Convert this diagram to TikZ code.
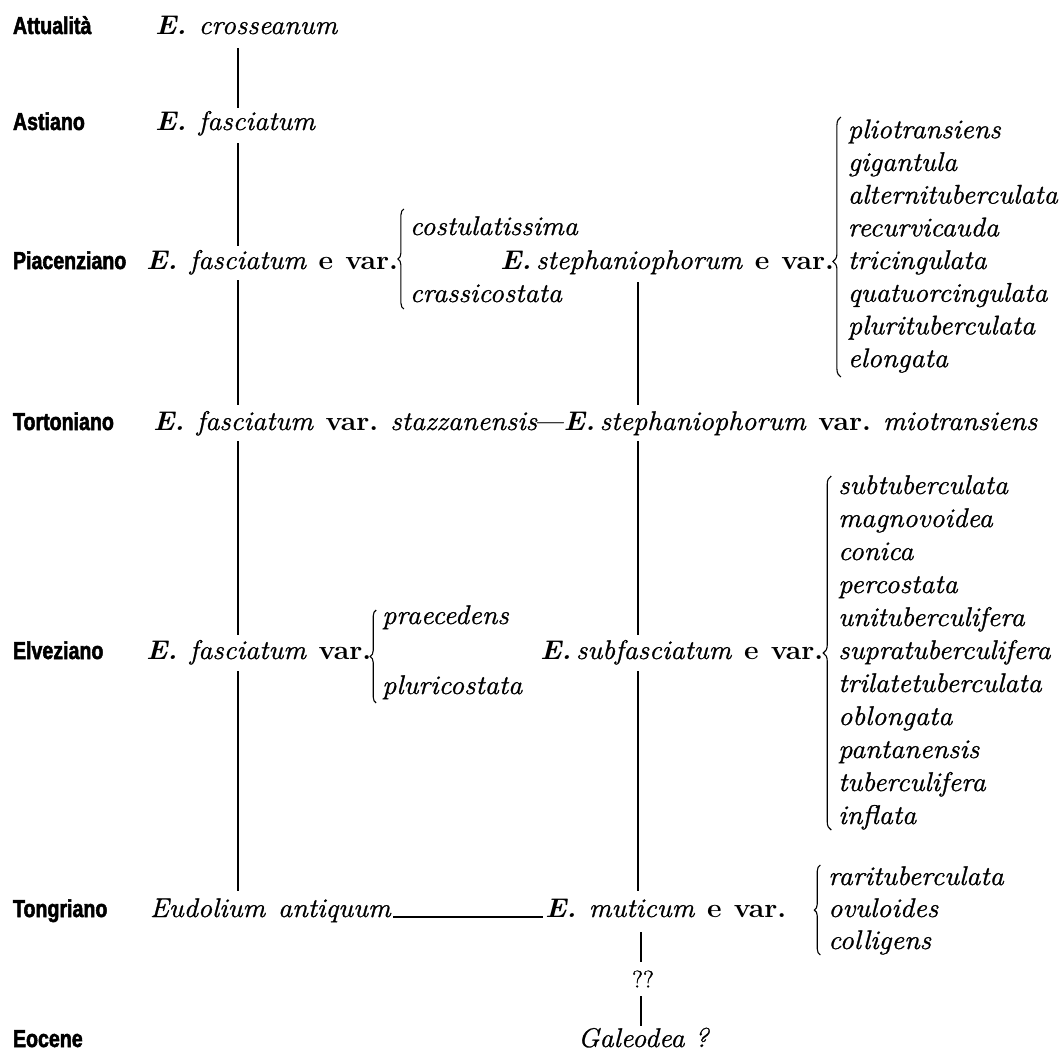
\documentclass[tikz,border=0pt]{standalone}
\usepackage{fontspec}
\setmainfont{Latin Modern Roman}[FakeStretch=1.05, UprightFeatures={FakeBold=1.2}, ItalicFeatures={FakeBold=1.0}]
\newfontfamily\labfont{Liberation Sans}[FakeStretch=0.8, BoldFeatures={FakeBold=2}]
\usetikzlibrary{decorations.pathreplacing,calc}
\newcommand\EE{\textbf{\textit{E.}}}
\newcommand\sep{\hspace{0.45em}}
\newcommand\vr{\textbf{var.}}
\newcommand\ev{\textbf{e}\sep\vr}
\tikzset{
  every node/.style={inner sep=0pt, outer sep=0pt},
  lab/.style={anchor=base west, font=\labfont\bfseries\fontsize{24.5}{24.5}\selectfont},
  txt/.style={anchor=base west, font=\fontsize{27}{27}\selectfont},
  itm/.style={anchor=base west, font=\fontsize{27}{27}\selectfont\itshape},
  link/.style={line width=1.5pt},
  brc/.style={decorate, decoration={brace, amplitude=#1, aspect=0.5}, line width=1.1pt},
  brc/.default=6pt,
}
\begin{document}
\begin{tikzpicture}[x=1pt,y=-1pt]
\useasboundingbox (0,0) rectangle (1059,1055);
% ---- labels
\node[lab] (labA) at (13,34) {Attualità};
\node[lab] (labB) at (13,130) {Astiano};
\node[lab] (labC) at (13,269) {Piacenziano};
\node[lab] (labD) at (13,430) {Tortoniano};
\node[lab] (labE) at (13,659) {Elveziano};
\node[lab] (labF) at (13,917) {Tongriano};
\node[lab] (labG) at (13,1047) {Eocene};
% ---- row A, B
\node[txt] (spA) at (155,34) {\EE\sep\textit{crosseanum}};
\node[txt] (spB) at (155,130) {\EE\sep\textit{fasciatum}};
% ---- row C
\node[txt] (spC1) at (146,269) {\EE\sep\textit{fasciatum}\sep\ev};
\coordinate (bC1) at ([xshift=6pt]spC1.base east);
\draw[brc=6pt] (bC1 |- 0,309) -- (bC1 |- 0,209);
\coordinate (iC1) at ([xshift=6pt]bC1);
\node[itm] (costu) at (iC1 |- 0,235) {costulatissima};
\node[itm] (crass) at (iC1 |- 0,302) {crassicostata};
\node[txt] (spC2) at (500,269) {\EE\,\textit{stephaniophorum}\sep\ev};
\coordinate (bC2) at ([xshift=7pt]spC2.base east);
\draw[decorate, decoration={brace, amplitude=8pt, aspect=0.444}, line width=1.1pt] (bC2 |- 0,377) -- (bC2 |- 0,117);
\coordinate (iC2) at ([xshift=7pt]bC2);
\foreach \w [count=\i] in {pliotransiens,gigantula,alternituberculata,recurvicauda,tricingulata,quatuorcingulata,plurituberculata,elongata}
  \node[itm] (lc\i) at (iC2 |- 0,{269+(\i-5)*32.7}) {\w};
% ---- row D
\node[txt] (spD) at (153,430) {\EE\sep\textit{fasciatum}\sep\vr\sep\textit{stazzanensis}---\EE\,\textit{stephaniophorum}\sep\vr\sep\textit{miotransiens}};
% ---- row E
\node[txt] (spE1) at (146,659) {\EE\sep\textit{fasciatum}\sep\vr};
\coordinate (bE1) at ([xshift=5pt]spE1.base east);
\draw[brc=6pt] (bE1 |- 0,703) -- (bE1 |- 0,610);
\coordinate (iE1) at ([xshift=6pt]bE1);
\node[itm] (praec) at (iE1 |- 0,624) {praecedens};
\node[itm] (pluri) at (iE1 |- 0,694) {pluricostata};
\node[txt] (spE2) at (540,659) {\EE\,\textit{subfasciatum}\sep\ev};
\coordinate (bE2) at ([xshift=8pt]spE2.base east);
\draw[decorate, decoration={brace, amplitude=8pt, aspect=0.5}, line width=1.1pt] (bE2 |- 0,830) -- (bE2 |- 0,476);
\coordinate (iE2) at ([xshift=7pt]bE2);
\foreach \w [count=\i] in {subtuberculata,magnovoidea,conica,percostata,unituberculifera,supratuberculifera,trilatetuberculata,oblongata,pantanensis,tuberculifera,inflata}
  \node[itm] (le\i) at (iE2 |- 0,{659+(\i-6)*33}) {\w};
% ---- row F
\node[txt] (antiq) at (150,917) {\textit{Eudolium}\sep\textit{antiquum}};
\node[txt] (mut) at (545,917) {\EE\sep\textit{muticum}\sep\ev};
\draw[line width=1.3pt] ([xshift=2pt]antiq.base east) -- ([xshift=-2pt]mut.base west);
\coordinate (bF) at ([xshift=34pt]mut.base east);
\draw[decorate, decoration={brace, amplitude=6pt, aspect=0.5}, line width=1.1pt] (bF |- 0,955) -- (bF |- 0,865);
\coordinate (iF) at ([xshift=8pt]bF);
\node[itm] (lf1) at (iF |- 0,885) {rarituberculata};
\node[itm] (lf2) at (iF |- 0,917) {ovuloides};
\node[itm] (lf3) at (iF |- 0,949) {colligens};
% ---- row G
\node (qq) at (643,979) [font=\fontsize{24}{24}\selectfont] {??};
\node[txt] (gal) at (578,1047) {\textit{Galeodea ?}};
% ---- connectors
\coordinate (a1) at (238,48);  \coordinate (a2) at (238,108);
\coordinate (b1) at (238,143); \coordinate (b2) at (238,246);
\coordinate (c1) at (238,280); \coordinate (c2) at (238,405);
\coordinate (d1) at (238,441); \coordinate (d2) at (238,635);
\coordinate (e1) at (238,671); \coordinate (e2) at (238,891);
\draw[link] (a1) -- (a2);
\draw[link] (b1) -- (b2);
\draw[link] (c1) -- (c2);
\draw[link] (d1) -- (d2);
\draw[link] (e1) -- (e2);
\coordinate (r1) at (638,282); \coordinate (r2) at (638,405);
\coordinate (r3) at (638,441); \coordinate (r4) at (638,635);
\coordinate (r5) at (638,671); \coordinate (r6) at (638,891);
\draw[link] (r1) -- (r2);
\draw[link] (r3) -- (r4);
\draw[link] (r5) -- (r6);
\coordinate (m1) at (641,932); \coordinate (m2) at (641,962);
\coordinate (m3) at (641,996); \coordinate (m4) at (641,1026);
\draw[link] (m1) -- (m2);
\draw[link] (m3) -- (m4);
\end{tikzpicture}
\end{document}
